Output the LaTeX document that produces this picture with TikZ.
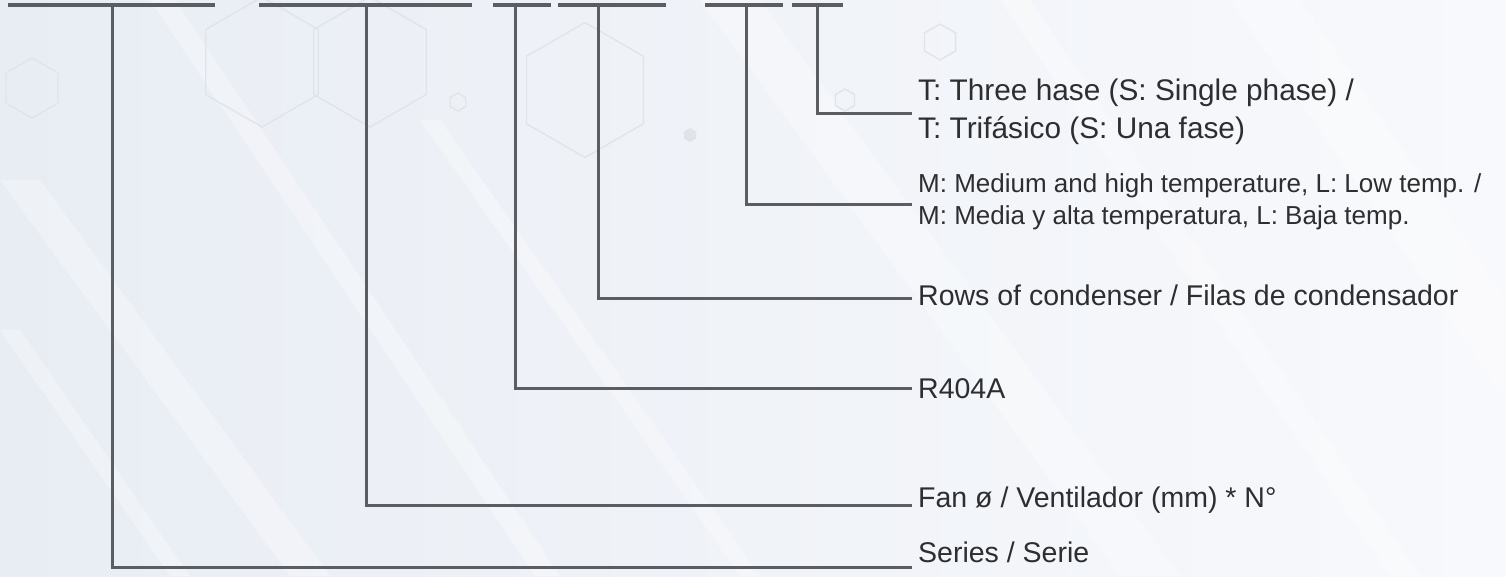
\documentclass[tikz,border=0pt]{standalone}
\usepackage{fontspec}
\setmainfont{Liberation Sans}
\usetikzlibrary{shapes.geometric}
\definecolor{bgL}{HTML}{E8EDF4}
\definecolor{bgR}{HTML}{F8F9FC}
\definecolor{linec}{HTML}{5A5D62}
\definecolor{txtc}{HTML}{2E2E30}
\definecolor{hexc}{HTML}{DFE3EA}
\tikzset{
  bar/.style={draw=linec, line width=3.2pt},
  lead/.style={draw=linec, line width=3pt, line join=miter},
  lbl/.style={anchor=base west, inner sep=0pt, text=txtc, font=\fontsize{28.5}{34}\selectfont},
  lblbig/.style={anchor=base west, inner sep=0pt, text=txtc, font=\fontsize{29.8}{36}\selectfont},
  lblsmall/.style={anchor=base west, inner sep=0pt, text=txtc, font=\fontsize{26}{31}\selectfont},
  hexa/.style={regular polygon, regular polygon sides=6, draw=hexc, line width=1.3pt, inner sep=0pt, shape border rotate=30},
  streak/.style={fill=white, opacity=0.3}
}
\begin{document}
\begin{tikzpicture}[x=1pt,y=-1pt]
\useasboundingbox (0,0) rectangle (1506,576);
% background
\shade[left color=bgL, right color=bgR] (0,0) rectangle (1506,576);
% streaks
\fill[streak] (0,180) -- (40,180) -- (330,576) -- (290,576) -- cycle;
\fill[streak] (150,0) -- (175,0) -- (560,576) -- (535,576) -- cycle;
\fill[streak] (420,120) -- (440,120) -- (760,576) -- (740,576) -- cycle;
\fill[streak] (700,0) -- (760,0) -- (1180,576) -- (1120,576) -- cycle;
\fill[streak] (1000,0) -- (1030,0) -- (1420,576) -- (1390,576) -- cycle;
\fill[streak] (1230,0) -- (1300,0) -- (1506,300) -- (1506,400) -- cycle;
\fill[streak] (0,330) -- (20,330) -- (190,576) -- (170,576) -- cycle;
% faint hexagons
\node[hexa, minimum size=130pt] (hx1) at (262,62) {};
\node[hexa, minimum size=130pt] (hx2) at (370,62) {};
\node[hexa, minimum size=135pt] (hx3) at (585,90) {};
\node[hexa, minimum size=60pt] (hx4) at (32,88) {};
\node[hexa, minimum size=36pt] (hx5) at (940,42) {};
\node[hexa, minimum size=22pt] (hx6) at (845,100) {};
\node[hexa, minimum size=18pt] (hx7) at (458,102) {};
\node[hexa, minimum size=14pt, fill=hexc, draw=none] (hx8) at (690,135) {};
% top bars
\coordinate (b1l) at (8,5);   \coordinate (b1r) at (215,5); \coordinate (t1) at (112,5);
\coordinate (b2l) at (259,5); \coordinate (b2r) at (472,5); \coordinate (t2) at (366,5);
\coordinate (b3l) at (493,5); \coordinate (b3r) at (551,5); \coordinate (t3) at (515,5);
\coordinate (b4l) at (558,5); \coordinate (b4r) at (666,5); \coordinate (t4) at (598,5);
\coordinate (b5l) at (705,5); \coordinate (b5r) at (783,5); \coordinate (t5) at (746,5);
\coordinate (b6l) at (792,5); \coordinate (b6r) at (843,5); \coordinate (t6) at (817,5);
\draw[bar] (b1l) -- (b1r);
\draw[bar] (b2l) -- (b2r);
\draw[bar] (b3l) -- (b3r);
\draw[bar] (b4l) -- (b4r);
\draw[bar] (b5l) -- (b5r);
\draw[bar] (b6l) -- (b6r);
% labels
\node[lblbig] (l6a) at (918,100) {T: Three hase (S: Single phase) /};
\node[lblbig] (l6b) at (918,138) {T: Trifásico (S: Una fase)};
\node[lblsmall] (l5a) at (918,192) {M: Medium and high temperature, L: Low temp. /};
\node[lblsmall] (l5b) at (918,224) {M: Media y alta temperatura, L: Baja temp.};
\node[lbl] (l4) at (918,305.5) {Rows of condenser / Filas de condensador};
\node[lbl] (l3) at (918,398.5) {R404A};
\node[lbl] (l2) at (918,507) {Fan ø / Ventilador (mm) * N°};
\node[lbl] (l1) at (918,562) {Series / Serie};
% end points of leaders
\coordinate (e6) at (912,113);
\coordinate (e5) at (912,204);
\coordinate (e4) at (912,298);
\coordinate (e3) at (912,388);
\coordinate (e2) at (912,505);
\coordinate (e1) at (912,567);
\draw[lead] (t6) |- (e6);
\draw[lead] (t5) |- (e5);
\draw[lead] (t4) |- (e4);
\draw[lead] (t3) |- (e3);
\draw[lead] (t2) |- (e2);
\draw[lead] (t1) |- (e1);
\end{tikzpicture}
\end{document}
